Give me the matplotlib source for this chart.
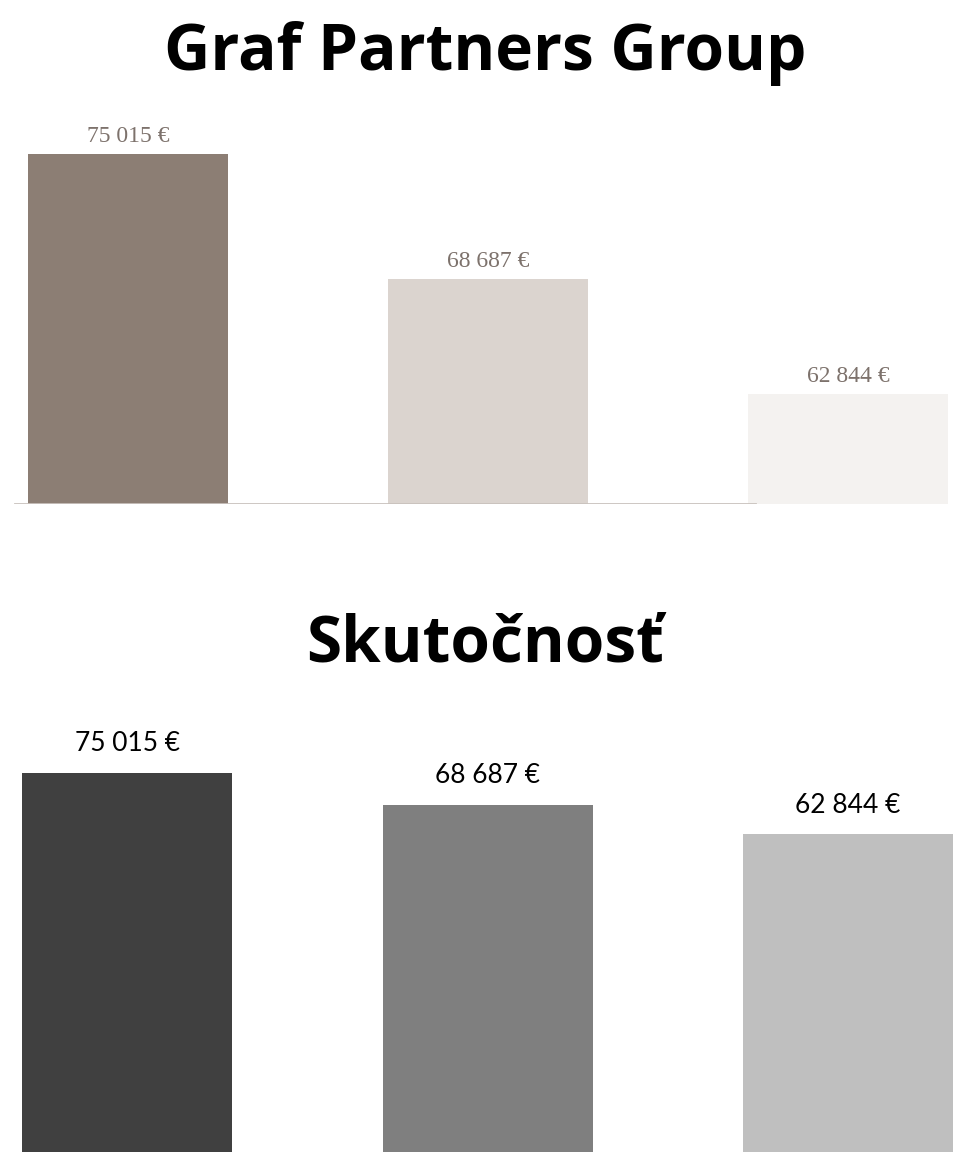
import matplotlib
matplotlib.use("Agg")
import matplotlib.pyplot as plt

# data
values = [75015, 68687, 62844]
labels = ["75 015 €", "68 687 €", "62 844 €"]
top_title = "Graf Partners Group"
bottom_title = "Skutočnosť"
top_colors = ["#8c7e74", "#dbd4cf", "#f4f2f0"]
bottom_colors = ["#404040", "#7f7f7f", "#bfbfbf"]

W, H = 970, 1167
fig = plt.figure(figsize=(W / 100, H / 100), dpi=100)
fig.patch.set_facecolor("white")


def px_axes(left, top, right, bottom):
    # pixel box (from top-left) -> figure fraction axes
    return fig.add_axes([left / W, 1 - bottom / H, (right - left) / W, (bottom - top) / H])


xs = range(len(values))

# --- top: truncated axis (scanned brochure look) ---
ax1 = px_axes(0, 104, W, 504)
base = 57270  # truncated baseline
k = 0.01975   # px per euro
ax1.bar(xs, [v - base for v in values], bottom=base, width=200 / 360, color=top_colors)
ax1.set_xlim(-128 / 360, (W - 128) / 360)
ax1.set_ylim(base, base + 400 / k)
ax1.axhline(base, xmin=15 / W, xmax=755 / W, color="#c9c2bd", lw=2)
for x, v, s in zip(xs, values, labels):
    ax1.annotate(s, (x, v), xytext=(0, 5), textcoords="offset points",
                 ha="center", va="bottom", fontsize=17, color="#7d726c",
                 family="Liberation Serif", annotation_clip=False)
ax1.axis("off")

# --- bottom: from zero ---
ax2 = px_axes(0, 700, W, 1152)
ax2.bar(xs, values, width=210 / 360.5, color=bottom_colors)
ax2.set_xlim(-127 / 360.5, (W - 127) / 360.5)
ax2.set_ylim(0, values[0] * 452 / 379)
for x, v, s in zip(xs, values, labels):
    ax2.annotate(s, (x, v), xytext=(0, 12), textcoords="offset points",
                 ha="center", va="bottom", fontsize=19, color="black",
                 family="Lato", annotation_clip=False)
ax2.axis("off")

fig.text(0.5, 1 - 53 / H, top_title, ha="center", va="center",
         fontsize=46, fontweight="bold", family="Open Sans")
fig.text(0.5, 1 - 645 / H, bottom_title, ha="center", va="center",
         fontsize=46, fontweight="bold", family="Open Sans")

fig.savefig("out.png", dpi=100, facecolor="white")
